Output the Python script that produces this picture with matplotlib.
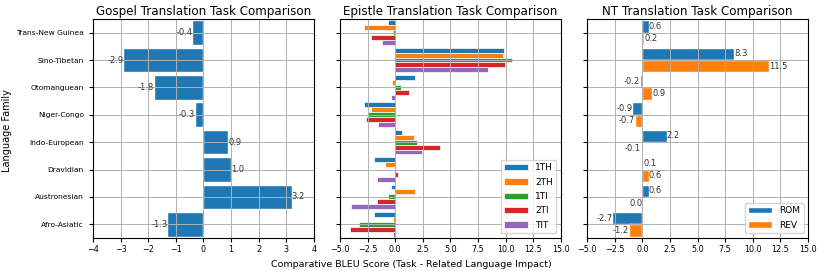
import matplotlib.pyplot as plt
import numpy as np

# language families, bottom to top as drawn
families = ['Afro-Asiatic', 'Austronesian', 'Dravidian', 'Indo-European',
            'Niger-Congo', 'Otomanguean', 'Sino-Tibetan', 'Trans-New Guinea']

gospel = [-1.3, 3.2, 1.0, 0.9, -0.3, -1.8, -2.9, -0.4]

epistle_names = ['1TH', '2TH', '1TI', '2TI', 'TIT']
ep_1th = [-1.9, -0.42, -1.9, 0.6, -2.86, 1.75, 9.85, -0.63]
ep_2th = [-0.2, 1.78, -0.9, 1.69, -2.23, -0.33, 9.76, -2.86]
ep_1ti = [-3.25, -0.63, -0.15, 1.99, -2.47, 0.48, 10.54, -0.2]
ep_2ti = [-4.07, -1.63, 0.27, 4.07, -2.65, 1.27, 9.94, -2.23]
ep_tit = [-0.2, -3.98, -1.63, 2.41, -1.54, -0.42, 8.43, -1.23]

nt_names = ['ROM', 'REV']
nt_rom = [-2.7, 0.6, 0.1, 2.2, -0.9, -0.2, 8.3, 0.6]
nt_rev = [-1.2, 0.0, 0.6, -0.1, -0.7, 0.9, 11.5, 0.2]


def label_bars(ax, bars, vals):
    for b, v in zip(bars, vals):
        y = b.get_y() + b.get_height() / 2
        ha = 'left' if v > 0 else 'right'
        ax.text(v, y, f'{v:.1f}', ha=ha, va='center', fontsize=6, color='#333333')


fig, axes = plt.subplots(1, 3, figsize=(8.22, 2.71), dpi=100, sharey=True)
fig.subplots_adjust(left=0.113, right=0.983, top=0.93, bottom=0.122, wspace=0.118)
y = np.arange(len(families))

ax = axes[0]
bars = ax.barh(y, gospel, height=0.9, color='#1f77b4', edgecolor='white')
label_bars(ax, bars, gospel)
ax.set_xlim(-4, 4)
ax.set_title('Gospel Translation Task Comparison', fontsize=8.6, pad=3)
ax.set_yticks(y)
ax.set_yticklabels(families)

ax = axes[1]
h = 0.18
series = [ep_1th, ep_2th, ep_1ti, ep_2ti, ep_tit]
for i, (vals, name) in enumerate(zip(series, epistle_names)):
    off = (2 - i) * h
    ax.barh(y + off, vals, height=h, edgecolor='white', linewidth=0.5, label=name)
ax.set_xlim(-5, 15)
ax.set_xticks(np.arange(-5, 15.1, 2.5))
ax.set_title('Epistle Translation Task Comparison', fontsize=8.6, pad=3)
ax.legend(loc='lower right', fontsize=6.5, handlelength=2.6, labelspacing=0.6)
ax.tick_params(axis='y', labelleft=False)

ax = axes[2]
h = 0.45
b1 = ax.barh(y + h / 2, nt_rom, height=h, edgecolor='white', label='ROM')
b2 = ax.barh(y - h / 2, nt_rev, height=h, edgecolor='white', label='REV')
label_bars(ax, b1, nt_rom)
label_bars(ax, b2, nt_rev)
ax.set_xlim(-5, 15)
ax.set_xticks(np.arange(-5, 15.1, 2.5))
ax.set_title('NT Translation Task Comparison', fontsize=8.6, pad=3)
ax.legend(loc='lower right', fontsize=6.5, handlelength=2.6, labelspacing=0.6)
ax.tick_params(axis='y', labelleft=False)

for ax in axes:
    ax.grid(True, color='#b0b0b0', linewidth=0.7)
    ax.tick_params(axis='x', labelsize=5.8, length=3, pad=2)
    ax.tick_params(axis='y', labelsize=5.4, length=3)
    ax.set_ylim(-0.5, len(families) - 0.5)

fig.text(0.009, 0.52, 'Language Family', rotation=90, ha='center', va='center', fontsize=7)
fig.supxlabel('Comparative BLEU Score (Task - Related Language Impact)', fontsize=6.8, y=0.008)

plt.savefig('out.png', dpi=100)
